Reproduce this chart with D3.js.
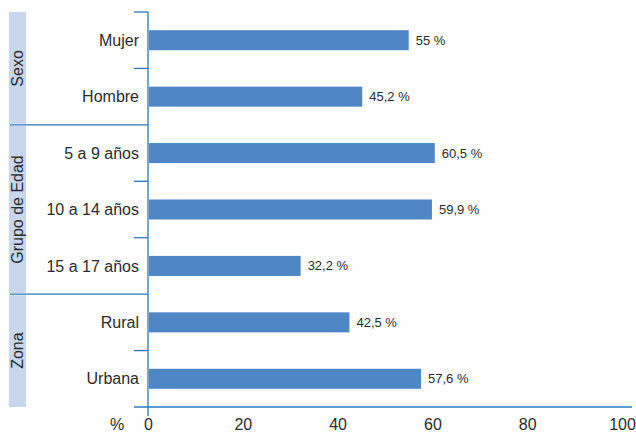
<!DOCTYPE html>
<html>
<head>
<meta charset="utf-8">
<script src="https://cdn.jsdelivr.net/npm/d3@7"></script>
<style>
  html, body { margin: 0; padding: 0; background: #fff; }
  svg { display: block; font-family: "Liberation Sans", Arial, Helvetica, sans-serif; }
</style>
</head>
<body>
<svg id="chart" width="636" height="433"></svg>
<script>
const categories = ["Mujer", "Hombre", "5 a 9 años", "10 a 14 años", "15 a 17 años", "Rural", "Urbana"];
const values = [55, 45.2, 60.5, 59.9, 32.2, 42.5, 57.6];
const groupNames = ["Sexo", "Grupo de Edad", "Zona"];
const groupMembers = [["Mujer", "Hombre"], ["5 a 9 años", "10 a 14 años", "15 a 17 años"], ["Rural", "Urbana"]];
const xTicks = [0, 20, 40, 60, 80, 100];
const axisUnit = "%";

(function () {
const data = categories.map((c, i) => ({ cat: c, val: values[i] }));

const svg = d3.select("#chart");
const lineColor = "#2878c0";
const barColor = "#4f87c6";
const boxColor = "#c8d7ee";
const textColor = "#2b2b2b";

const plotTop = 12, plotBottom = 407, axisX = 148;

const x = d3.scaleLinear().domain([0, 100]).range([axisX, 622]);
const slot = d3.scaleBand().domain(categories).range([plotTop, plotBottom]).padding(0);
const y = d3.scaleBand().domain(categories).range([plotTop, plotBottom])
  .paddingInner(0.645).paddingOuter(0.3225);

// group boxes
groupNames.forEach((g, gi) => {
  const mem = groupMembers[gi];
  const y0 = slot(mem[0]);
  const y1 = slot(mem[mem.length - 1]) + slot.bandwidth();
  svg.append("rect")
    .attr("x", 9).attr("y", y0 + (gi === 0 ? 0 : 1))
    .attr("width", 17).attr("height", y1 - y0 - (gi === 0 ? 0 : 1) - (gi === groupNames.length - 1 ? 0 : 1))
    .attr("fill", boxColor);
  svg.append("text")
    .attr("transform", `translate(${23},${(y0 + y1) / 2}) rotate(-90)`)
    .attr("text-anchor", "middle")
    .attr("font-size", 16)
    .attr("fill", textColor)
    .text(g);
});

// bars
svg.append("g").selectAll("rect")
  .data(data).join("rect")
  .attr("x", x(0) + 1)
  .attr("y", d => y(d.cat))
  .attr("width", d => x(d.val) - x(0) - 1)
  .attr("height", y.bandwidth())
  .attr("fill", barColor);

// value labels
const fmt = v => String(v).replace(".", ",") + " %";
svg.append("g").selectAll("text")
  .data(data).join("text")
  .attr("x", d => x(d.val) + 7)
  .attr("y", d => y(d.cat) + y.bandwidth() / 2)
  .attr("dy", "0.35em")
  .attr("font-size", 13)
  .attr("fill", textColor)
  .text(d => fmt(d.val));

// category labels
svg.append("g").selectAll("text")
  .data(data).join("text")
  .attr("x", 139)
  .attr("y", d => y(d.cat) + y.bandwidth() / 2)
  .attr("dy", "0.35em")
  .attr("text-anchor", "end")
  .attr("font-size", 16)
  .attr("fill", textColor)
  .text(d => d.cat);

// left ticks: slot boundaries
const groupStarts = new Set(groupMembers.slice(1).map(m => m[0]));
const lines = svg.append("g").attr("stroke", lineColor).attr("stroke-width", 1.3);
categories.forEach(c => {
  const yy = slot(c);
  const x0 = groupStarts.has(c) ? 10 : 134;
  lines.append("line").attr("x1", x0).attr("x2", axisX).attr("y1", yy).attr("y2", yy);
});

// vertical axis line
lines.append("line").attr("x1", axisX).attr("x2", axisX).attr("y1", plotTop).attr("y2", plotBottom + 9);
// baseline
lines.append("line").attr("x1", 134).attr("x2", 632).attr("y1", plotBottom).attr("y2", plotBottom);

// x axis labels
const xAxis = d3.axisBottom(x).tickValues(xTicks).tickSize(0).tickFormat(d3.format("d"));
const gx = svg.append("g").attr("transform", `translate(0,${plotBottom})`).call(xAxis);
gx.select(".domain").remove();
gx.selectAll("text")
  .attr("y", 22.5).attr("dy", null)
  .attr("font-size", 16)
  .attr("font-family", "Liberation Sans, Arial, sans-serif")
  .attr("fill", textColor);

svg.append("text")
  .attr("x", 117).attr("y", plotBottom + 22.5)
  .attr("text-anchor", "middle")
  .attr("font-size", 16)
  .attr("fill", textColor)
  .text(axisUnit);
})();
</script>
</body>
</html>
